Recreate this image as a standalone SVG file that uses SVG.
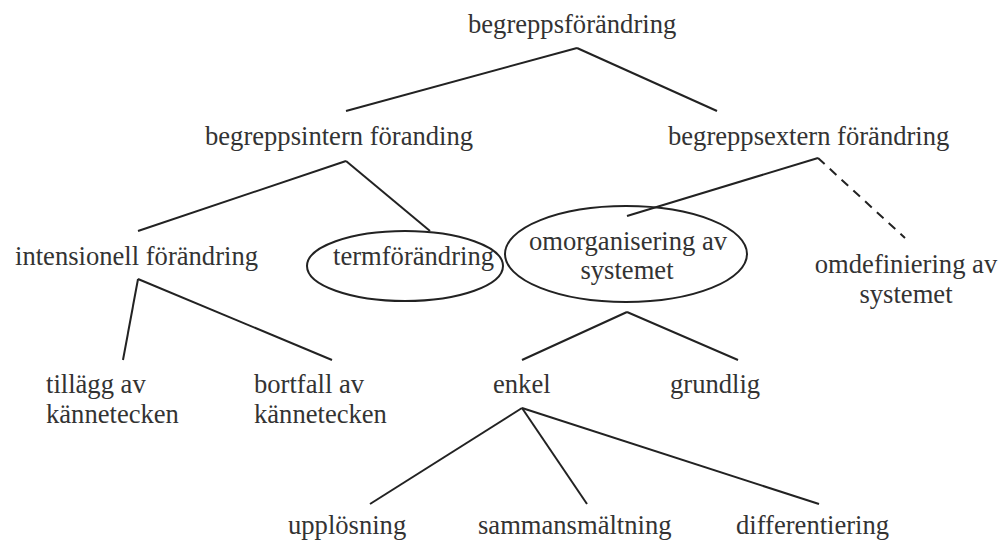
<svg xmlns="http://www.w3.org/2000/svg" width="998" height="541" viewBox="0 0 998 541">
<style>
.t{font-family:"Liberation Serif","Times New Roman",serif;font-size:26.6px;fill:#333}
.c{text-anchor:middle}
.l{stroke:#222;stroke-width:2;fill:none}
.d{stroke-dasharray:9 7}
.e{stroke:#222;stroke-width:2;fill:none}
</style>
<rect width="998" height="541" fill="#fff"/>
<g id="connectors">
<line class="l" x1="577" y1="48" x2="346" y2="111"/>
<line class="l" x1="577" y1="48" x2="717" y2="111"/>
<line class="l" x1="346" y1="161" x2="138" y2="231"/>
<line class="l" x1="346" y1="161" x2="430" y2="231"/>
<line class="l" x1="818" y1="158" x2="627" y2="216"/>
<line class="l d" x1="818" y1="158" x2="905" y2="238"/>
<line class="l" x1="138" y1="279" x2="123" y2="360"/>
<line class="l" x1="138" y1="279" x2="332" y2="360"/>
<line class="l" x1="627" y1="312" x2="522" y2="360"/>
<line class="l" x1="627" y1="312" x2="738" y2="360"/>
<line class="l" x1="522" y1="408" x2="370" y2="504"/>
<line class="l" x1="522" y1="408" x2="587" y2="504"/>
<line class="l" x1="522" y1="408" x2="819" y2="504"/>
</g>
<g id="n-root"><text class="t" x="468" y="33">begreppsförändring</text></g>
<g id="n-intern"><text class="t" x="205" y="145">begreppsintern föranding</text></g>
<g id="n-extern"><text class="t" x="668" y="145">begreppsextern förändring</text></g>
<g id="n-intensionell"><text class="t" x="15" y="265">intensionell förändring</text></g>
<g id="n-term"><ellipse class="e" cx="405" cy="266" rx="98" ry="35"/><text class="t" x="333" y="265">termförändring</text></g>
<g id="n-omorg"><ellipse class="e" cx="626" cy="254" rx="121" ry="48"/><text class="t c" x="628" y="250">omorganisering av</text><text class="t c" x="627" y="279">systemet</text></g>
<g id="n-omdef"><text class="t c" x="906" y="273">omdefiniering av</text><text class="t c" x="906" y="303">systemet</text></g>
<g id="n-tillagg"><text class="t" x="46" y="393">tillägg av</text><text class="t" x="46" y="423">kännetecken</text></g>
<g id="n-bortfall"><text class="t" x="254" y="393">bortfall av</text><text class="t" x="254" y="423">kännetecken</text></g>
<g id="n-enkel"><text class="t" x="493" y="393">enkel</text></g>
<g id="n-grundlig"><text class="t" x="670" y="393">grundlig</text></g>
<g id="n-upplosning"><text class="t" x="288" y="534">upplösning</text></g>
<g id="n-samman"><text class="t" x="478" y="534">sammansmältning</text></g>
<g id="n-diff"><text class="t" x="736" y="534">differentiering</text></g>
</svg>
